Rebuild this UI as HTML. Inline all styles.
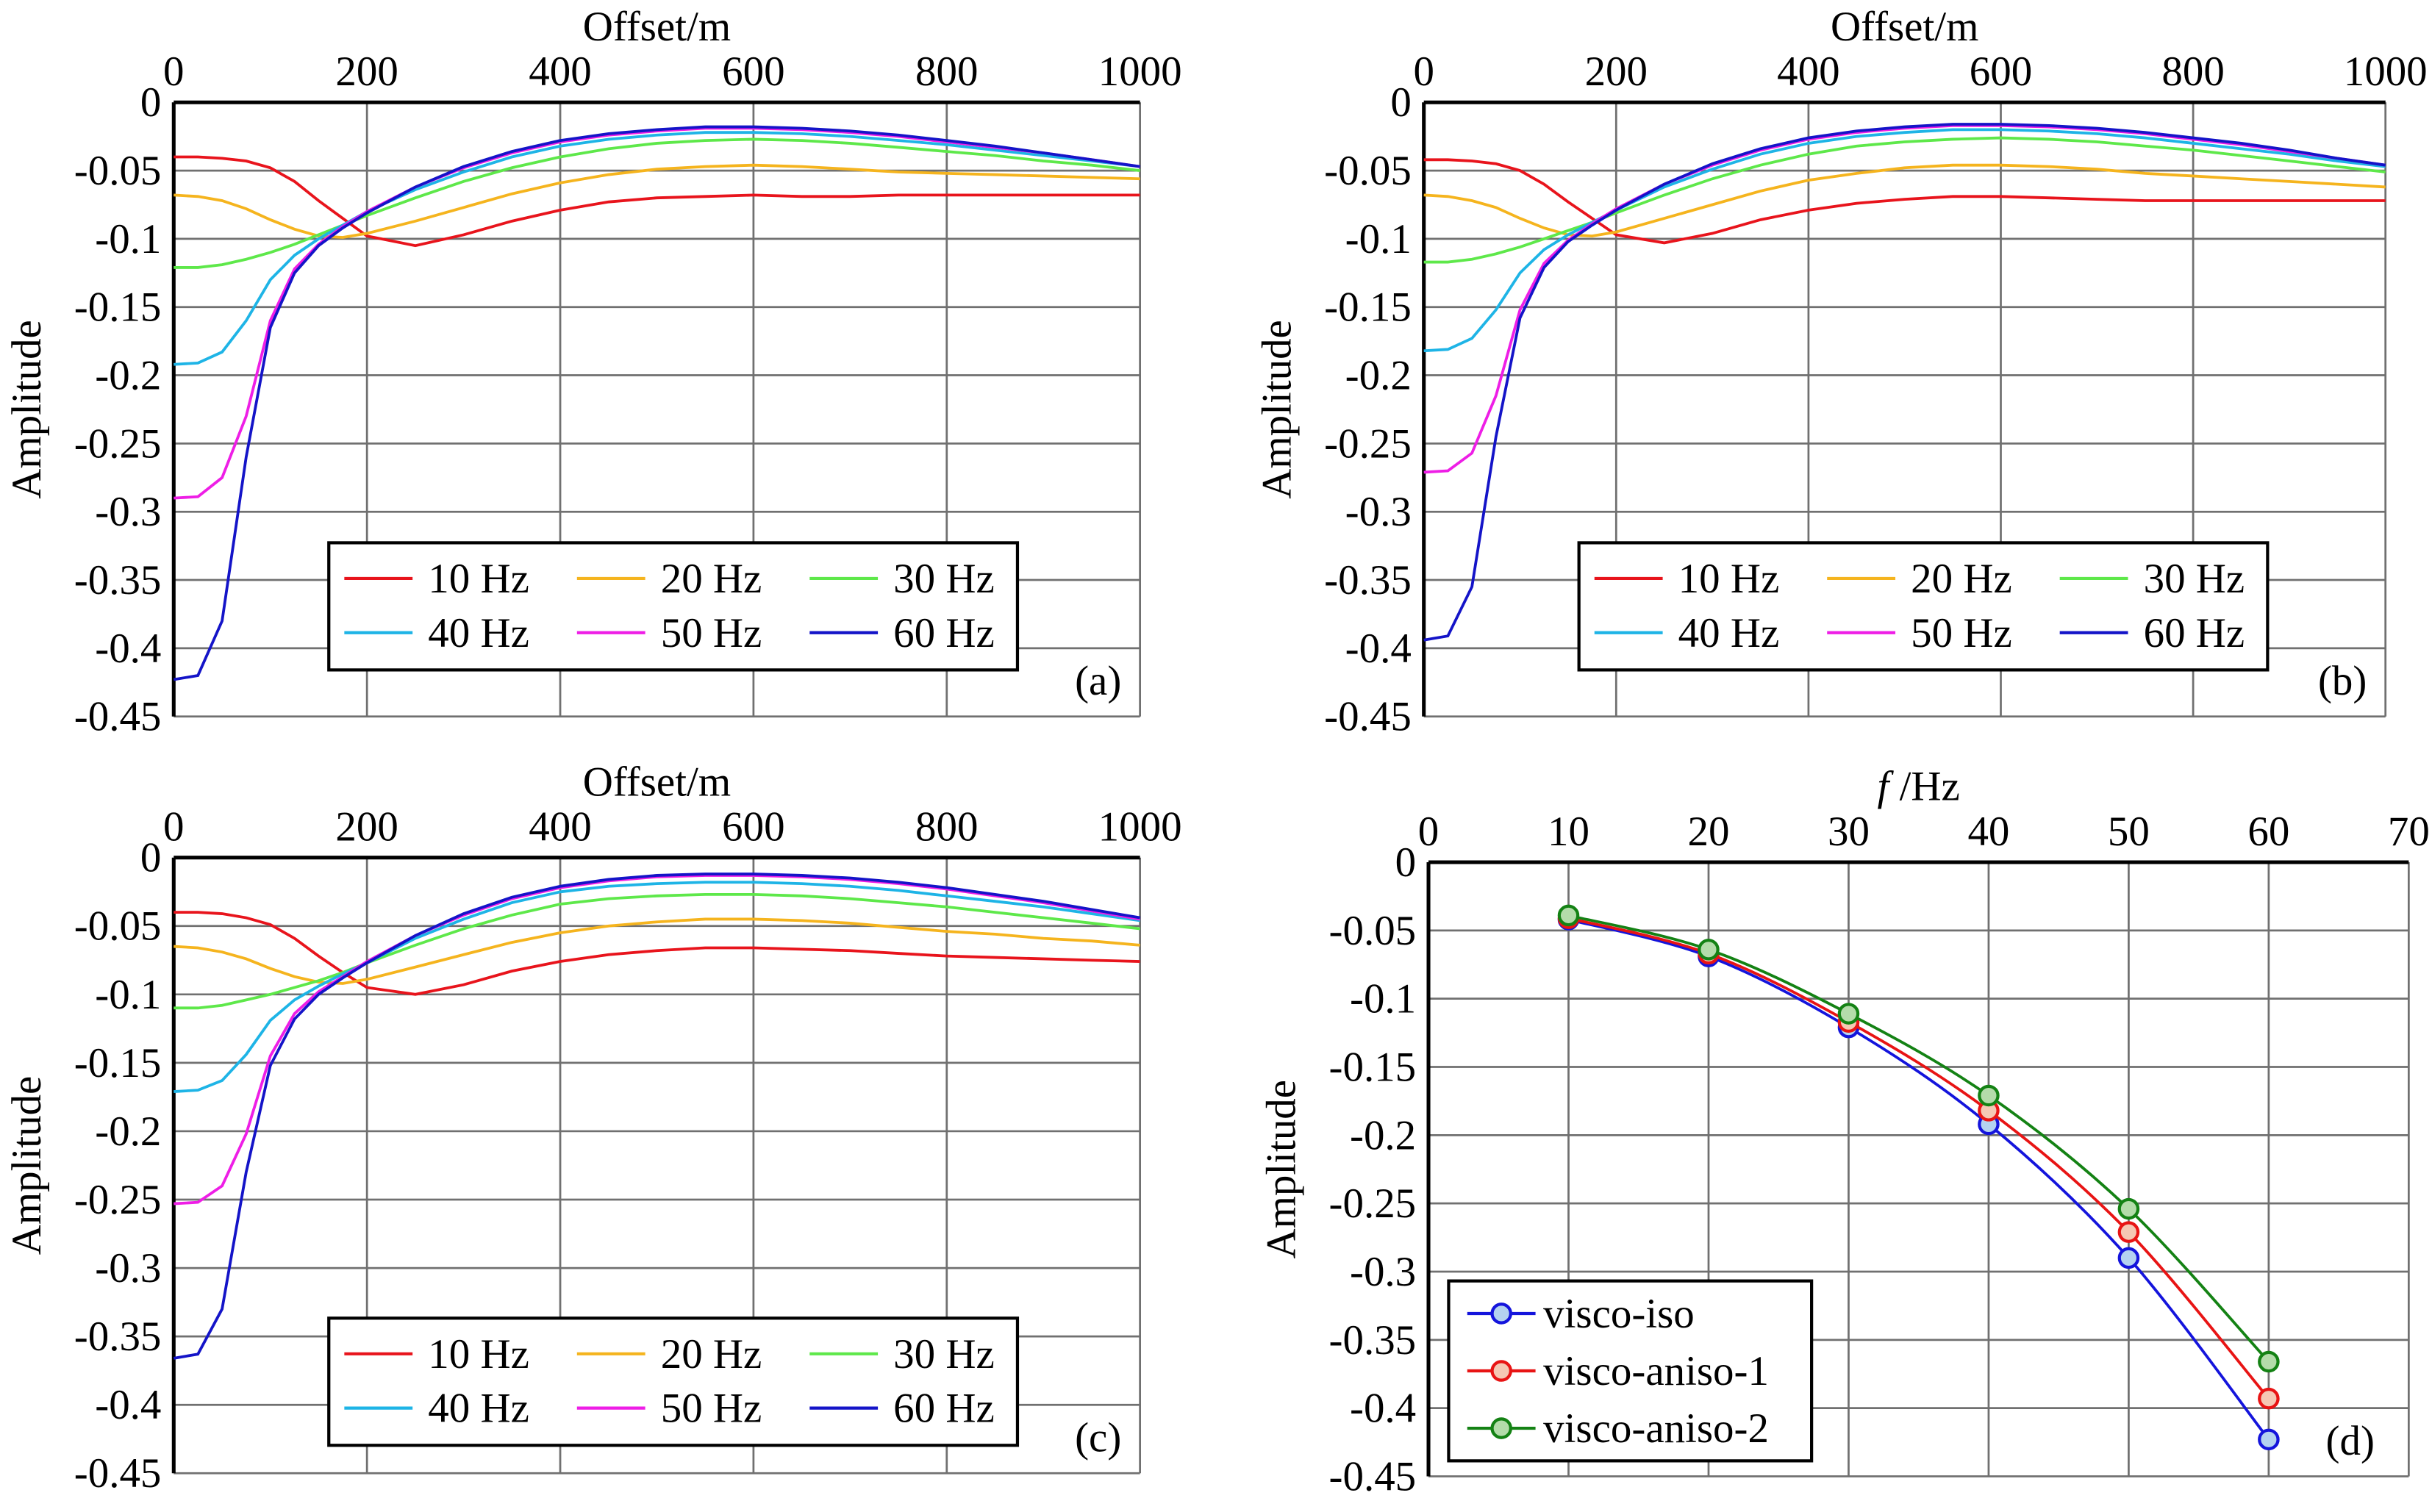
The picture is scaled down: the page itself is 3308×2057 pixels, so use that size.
<!DOCTYPE html>
<html><head><meta charset="utf-8"><style>
html,body{margin:0;padding:0;background:#fff}
svg{display:block}
svg text{font-family:"Liberation Serif","DejaVu Serif",serif;fill:#000}
</style></head><body>
<svg id="fig" width="3308" height="2057" viewBox="0 0 1568 975" preserveAspectRatio="none" font-family="Liberation Serif, serif" xmlns="http://www.w3.org/2000/svg"></svg>
<script>
const offsets=[0,25,50,75,100,125,150,175,200,250,300,350,400,450,500,550,600,650,700,750,800,850,900,950,1000];
const freqLabels=["10 Hz","20 Hz","30 Hz","40 Hz","50 Hz","60 Hz"];
const colors=["#e8141c","#f5b41e","#5ee84a","#1eb4e6","#ee1ee6","#1414c8"];
const yTicks=[0,-0.05,-0.1,-0.15,-0.2,-0.25,-0.3,-0.35,-0.4,-0.45];
const yTickLabels=["0","-0.05","-0.1","-0.15","-0.2","-0.25","-0.3","-0.35","-0.4","-0.45"];
const xTicksOffset=[0,200,400,600,800,1000];
// panel a
const a10=[-0.040,-0.040,-0.041,-0.043,-0.048,-0.058,-0.072,-0.085,-0.098,-0.105,-0.097,-0.087,-0.079,-0.073,-0.070,-0.069,-0.068,-0.069,-0.069,-0.068,-0.068,-0.068,-0.068,-0.068,-0.068];
const a20=[-0.068,-0.069,-0.072,-0.078,-0.086,-0.093,-0.098,-0.099,-0.096,-0.087,-0.077,-0.067,-0.059,-0.053,-0.049,-0.047,-0.046,-0.047,-0.049,-0.051,-0.052,-0.053,-0.054,-0.055,-0.056];
const a30=[-0.121,-0.121,-0.119,-0.115,-0.110,-0.104,-0.097,-0.090,-0.083,-0.070,-0.058,-0.048,-0.040,-0.034,-0.030,-0.028,-0.027,-0.028,-0.030,-0.033,-0.036,-0.039,-0.043,-0.046,-0.050];
const a40=[-0.192,-0.191,-0.183,-0.160,-0.130,-0.112,-0.100,-0.090,-0.080,-0.064,-0.051,-0.040,-0.032,-0.027,-0.024,-0.022,-0.022,-0.023,-0.025,-0.028,-0.031,-0.035,-0.039,-0.043,-0.047];
const a50=[-0.290,-0.289,-0.275,-0.230,-0.160,-0.122,-0.104,-0.091,-0.080,-0.062,-0.048,-0.037,-0.029,-0.024,-0.021,-0.019,-0.019,-0.020,-0.022,-0.025,-0.029,-0.033,-0.037,-0.042,-0.047];
const a60=[-0.423,-0.420,-0.380,-0.260,-0.165,-0.125,-0.105,-0.092,-0.081,-0.062,-0.047,-0.036,-0.028,-0.023,-0.020,-0.018,-0.018,-0.019,-0.021,-0.024,-0.028,-0.032,-0.037,-0.042,-0.047];
// panel b
const b10=[-0.042,-0.042,-0.043,-0.045,-0.050,-0.060,-0.073,-0.085,-0.097,-0.103,-0.096,-0.086,-0.079,-0.074,-0.071,-0.069,-0.069,-0.070,-0.071,-0.072,-0.072,-0.072,-0.072,-0.072,-0.072];
const b20=[-0.068,-0.069,-0.072,-0.077,-0.085,-0.092,-0.097,-0.098,-0.095,-0.085,-0.075,-0.065,-0.057,-0.052,-0.048,-0.046,-0.046,-0.047,-0.049,-0.052,-0.054,-0.056,-0.058,-0.060,-0.062];
const b30=[-0.117,-0.117,-0.115,-0.111,-0.106,-0.100,-0.094,-0.088,-0.081,-0.068,-0.056,-0.046,-0.038,-0.032,-0.029,-0.027,-0.026,-0.027,-0.029,-0.032,-0.035,-0.039,-0.043,-0.047,-0.051];
const b40=[-0.182,-0.181,-0.173,-0.152,-0.125,-0.108,-0.097,-0.088,-0.079,-0.062,-0.049,-0.038,-0.030,-0.025,-0.022,-0.020,-0.020,-0.021,-0.023,-0.026,-0.030,-0.034,-0.038,-0.043,-0.047];
const b50=[-0.271,-0.270,-0.257,-0.215,-0.152,-0.118,-0.101,-0.089,-0.078,-0.060,-0.046,-0.035,-0.027,-0.022,-0.019,-0.017,-0.017,-0.018,-0.020,-0.023,-0.027,-0.031,-0.036,-0.041,-0.046];
const b60=[-0.394,-0.391,-0.355,-0.245,-0.158,-0.121,-0.102,-0.090,-0.079,-0.060,-0.045,-0.034,-0.026,-0.021,-0.018,-0.016,-0.016,-0.017,-0.019,-0.022,-0.026,-0.030,-0.035,-0.041,-0.046];
// panel c
const c10=[-0.040,-0.040,-0.041,-0.044,-0.049,-0.059,-0.072,-0.084,-0.095,-0.100,-0.093,-0.083,-0.076,-0.071,-0.068,-0.066,-0.066,-0.067,-0.068,-0.070,-0.072,-0.073,-0.074,-0.075,-0.076];
const c20=[-0.065,-0.066,-0.069,-0.074,-0.081,-0.087,-0.091,-0.092,-0.089,-0.080,-0.071,-0.062,-0.055,-0.050,-0.047,-0.045,-0.045,-0.046,-0.048,-0.051,-0.054,-0.056,-0.059,-0.061,-0.064];
const c30=[-0.110,-0.110,-0.108,-0.104,-0.100,-0.095,-0.090,-0.084,-0.077,-0.064,-0.052,-0.042,-0.034,-0.030,-0.028,-0.027,-0.027,-0.028,-0.030,-0.033,-0.036,-0.040,-0.044,-0.048,-0.052];
const c40=[-0.171,-0.170,-0.163,-0.144,-0.119,-0.104,-0.094,-0.085,-0.077,-0.059,-0.045,-0.033,-0.025,-0.021,-0.019,-0.018,-0.018,-0.019,-0.021,-0.024,-0.028,-0.032,-0.036,-0.041,-0.046];
const c50=[-0.253,-0.252,-0.240,-0.202,-0.145,-0.114,-0.098,-0.087,-0.076,-0.057,-0.042,-0.030,-0.022,-0.017,-0.014,-0.013,-0.013,-0.014,-0.016,-0.019,-0.023,-0.028,-0.033,-0.039,-0.045];
const c60=[-0.366,-0.363,-0.330,-0.230,-0.152,-0.118,-0.100,-0.088,-0.077,-0.057,-0.041,-0.029,-0.021,-0.016,-0.013,-0.012,-0.012,-0.013,-0.015,-0.018,-0.022,-0.027,-0.032,-0.038,-0.044];
// panel d
const dFreqs=[10,20,30,40,50,60];
const dIso=[-0.042,-0.069,-0.121,-0.192,-0.290,-0.423];
const dAniso1=[-0.041,-0.067,-0.117,-0.182,-0.271,-0.393];
const dAniso2=[-0.039,-0.064,-0.111,-0.171,-0.254,-0.366];
const dXTicks=[0,10,20,30,40,50,60,70];
const dNames=["visco-iso","visco-aniso-1","visco-aniso-2"];

const NS="http://www.w3.org/2000/svg";
const svg=document.getElementById('fig');
const FS=27;
function mk(tag,attrs,parent,name,txt){const e=document.createElementNS(NS,tag);for(const k in attrs)e.setAttribute(k,attrs[k]);


if(txt!==undefined)e.textContent=txt;(parent||svg).appendChild(e);return e;}

function axesFrame(g,L,R,T,B,xmin,xmax,xticks,ymin,ymax,xTitle,italicF){
  const sx=v=>L+(v-xmin)/(xmax-xmin)*(R-L);
  const sy=v=>T+(ymax-v)/(ymax-ymin)*(B-T);
  xticks.forEach(t=>{if(t!==xmin) mk('line',{x1:sx(t),x2:sx(t),y1:T,y2:B,stroke:'#707070','stroke-width':1.3},g,'x-gridline');});
  yTicks.forEach(t=>{if(t!==0) mk('line',{x1:L,x2:R,y1:sy(t),y2:sy(t),stroke:'#707070','stroke-width':1.3},g,'y-gridline');});
  mk('line',{x1:L,x2:R,y1:T,y2:T,stroke:'#000','stroke-width':2.4},g,'x-axis-line');
  mk('line',{x1:L,x2:L,y1:T,y2:B,stroke:'#000','stroke-width':2.4},g,'y-axis-line');
  xticks.forEach(t=>mk('text',{x:sx(t),y:T-11,'font-size':FS,'text-anchor':'middle'},g,'x-tick-label',String(t)));
  yTicks.forEach((t,i)=>mk('text',{x:L-8,y:sy(t)+9,'font-size':FS,'text-anchor':'end'},g,'y-tick-label',yTickLabels[i]));
  const xt=mk('text',{x:(L+R)/2,y:T-40,'font-size':FS,'text-anchor':'middle'},g,'x-axis-title');
  if(italicF){mk('tspan',{'font-style':'italic'},xt,'x-axis-title-italic','f');mk('tspan',{},xt,'x-axis-title-unit',' /Hz');}
  else xt.textContent=xTitle;
  mk('text',{x:0,y:0,'font-size':FS,'text-anchor':'middle',transform:`translate(${L-86},${(T+B)/2}) rotate(-90)`},g,'y-axis-title','Amplitude');
  return {sx,sy};
}

function offsetPanel(id,L,R,T,B,series,legY,letter){
  const g=mk('g',{},svg,'panel-'+id);
  const {sx,sy}=axesFrame(g,L,R,T,B,0,1000,xTicksOffset,-0.45,0,'Offset/m',false);
  series.forEach((s,i)=>{
    const pts=offsets.map((o,j)=>sx(o).toFixed(1)+','+sy(s[j]).toFixed(1)).join(' ');
    mk('polyline',{points:pts,fill:'none',stroke:colors[i],'stroke-width':1.8},g,'series-'+(i+1)*10+'hz');
  });
  const lx=L+100, lw=444, lh=82;
  const lg=mk('g',{},g,'legend');
  mk('rect',{x:lx,y:legY,width:lw,height:lh,fill:'#fff',stroke:'#000','stroke-width':2},lg,'legend-box');
  freqLabels.forEach((f,i)=>{
    const cx=lx+10+(i%3)*150, cy=legY+23+Math.floor(i/3)*35;
    mk('line',{x1:cx,x2:cx+44,y1:cy,y2:cy,stroke:colors[i],'stroke-width':2},lg,'legend-swatch');
    mk('text',{x:cx+54,y:cy+9,'font-size':FS},lg,'legend-label',f);
  });
  mk('text',{x:R-12,y:B-14,'font-size':FS,'text-anchor':'end'},g,'panel-label',letter);
}
offsetPanel('a',112,735,66,462,[a10,a20,a30,a40,a50,a60],350,'(a)');
offsetPanel('b',918,1538,66,462,[b10,b20,b30,b40,b50,b60],350,'(b)');
offsetPanel('c',112,735,553,950,[c10,c20,c30,c40,c50,c60],850,'(c)');

// panel d
(function(){
  const L=921,R=1553,T=556,B=952;
  const g=mk('g',{},svg,'panel-d');
  const {sx,sy}=axesFrame(g,L,R,T,B,0,70,dXTicks,-0.45,0,'',true);
  const sets=[dIso,dAniso1,dAniso2];
  const lc=['#1414dc','#e81414','#148214'], fc=['#b4d2f0','#f5c8b4','#b4dcaa'];
  sets.forEach((s,k)=>{
    const P=dFreqs.map((f,j)=>[sx(f),sy(s[j])]);
    let d='M'+P[0][0]+','+P[0][1];
    for(let i=0;i<P.length-1;i++){
      const p0=P[Math.max(0,i-1)],p1=P[i],p2=P[i+1],p3=P[Math.min(P.length-1,i+2)];
      const c1=[p1[0]+(p2[0]-p0[0])/6,p1[1]+(p2[1]-p0[1])/6],c2=[p2[0]-(p3[0]-p1[0])/6,p2[1]-(p3[1]-p1[1])/6];
      d+=` C${c1[0]},${c1[1]} ${c2[0]},${c2[1]} ${p2[0]},${p2[1]}`;
    }
    mk('path',{d,fill:'none',stroke:lc[k],'stroke-width':1.8},g,'line-'+dNames[k]);
    P.forEach(p=>mk('circle',{cx:p[0],cy:p[1],r:6,fill:fc[k],stroke:lc[k],'stroke-width':2},g,'marker-'+dNames[k]));
  });
  const lg=mk('g',{},g,'legend');
  mk('rect',{x:934,y:826,width:234,height:116,fill:'#fff',stroke:'#000','stroke-width':2},lg,'legend-box');
  dNames.forEach((n,k)=>{
    const cy=847+k*37;
    mk('line',{x1:946,x2:990,y1:cy,y2:cy,stroke:lc[k],'stroke-width':2},lg,'legend-swatch');
    mk('circle',{cx:968,cy:cy,r:6,fill:fc[k],stroke:lc[k],'stroke-width':2},lg,'legend-marker');
    mk('text',{x:995,y:cy+9,'font-size':FS},lg,'legend-label',n);
  });
  mk('text',{x:R-22,y:B-14,'font-size':FS,'text-anchor':'end'},g,'panel-label','(d)');
})();
</script>
</body></html>
